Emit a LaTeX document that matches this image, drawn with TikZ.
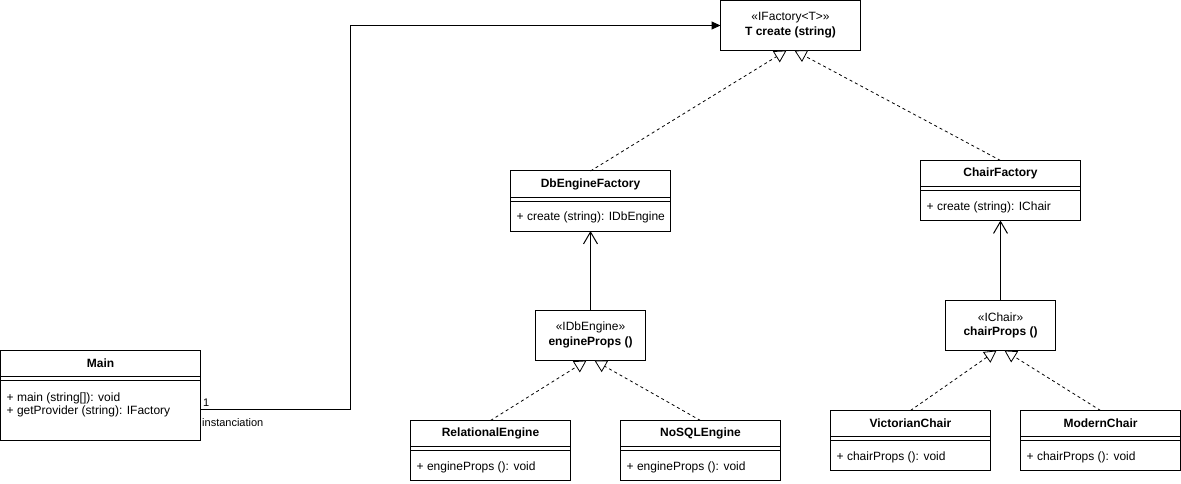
\documentclass[tikz,border=0pt]{standalone}
\usepackage{fontspec}
\setmainfont{Liberation Sans}
\usetikzlibrary{arrows.meta}
\newcommand{\classbox}[6]{% name, x, y, width, height, title
  \node[box, minimum width=#4pt, minimum height=#5pt] (#1) at (#2,#3) {};
  \draw[sep] ([yshift=-26pt]#1.north west) -- ([yshift=-26pt]#1.north east);
  \draw[sep] ([yshift=-30pt]#1.north west) -- ([yshift=-30pt]#1.north east);
  \node[ttl] (#1-t) at ([yshift=-13pt]#1.north) {#6};
}
\begin{document}
\begin{tikzpicture}[x=1pt,y=-1pt,
  box/.style={draw=black, line width=1pt, anchor=north west, inner sep=0pt, outer sep=0pt, fill=white},
  sep/.style={line width=1pt},
  ttl/.style={font=\fontsize{12}{14}\selectfont\bfseries, inner sep=0pt},
  txt/.style={font=\fontsize{12}{14}\selectfont, inner sep=0pt, anchor=west},
  ctr/.style={font=\fontsize{12}{14}\selectfont, inner sep=0pt},
  ctrb/.style={font=\fontsize{12}{14}\selectfont\bfseries, inner sep=0pt},
  lbl/.style={font=\fontsize{11}{13}\selectfont, inner sep=0pt, anchor=west},
  assoc/.style={line width=1pt, -{Triangle[length=9pt,width=8pt]}},
  dep/.style={line width=1pt, -{Straight Barb[length=12pt,width=14pt]}},
  real/.style={line width=0.8pt, dash pattern=on 3pt off 3pt, -{Triangle[open,length=12pt,width=13pt,fill=white]}}
]
\useasboundingbox (0,0) rectangle (1181,484);

% Main
\classbox{main}{0.5}{350.5}{200}{90}{Main}
\node[txt] (main-a1) at ([xshift=6pt,yshift=-47.5pt]main.north west) {+ main (string[]): void};
\node[txt] (main-a2) at ([xshift=6pt,yshift=-60.5pt]main.north west) {+ getProvider (string): IFactory};

% IFactory
\node[box, minimum width=140pt, minimum height=50pt] (ifac) at (720.5,0.5) {};
\node[ctr] (ifac-s) at ([yshift=-17pt]ifac.north) {«IFactory<T>»};
\node[ctrb] (ifac-m) at ([yshift=-32pt]ifac.north) {T create (string)};

% DbEngineFactory
\classbox{dbf}{510.5}{171}{160}{60}{DbEngineFactory}
\node[txt] (dbf-a) at ([xshift=6pt,yshift=-46.5pt]dbf.north west) {+ create (string): IDbEngine};

% ChairFactory
\classbox{chf}{920.5}{160.5}{160}{60}{ChairFactory}
\node[txt] (chf-a) at ([xshift=6pt,yshift=-47pt]chf.north west) {+ create (string): IChair};

% IDbEngine
\node[box, minimum width=110pt, minimum height=50pt] (idb) at (535.5,310.5) {};
\node[ctr] (idb-s) at ([yshift=-17pt]idb.north) {«IDbEngine»};
\node[ctrb] (idb-m) at ([yshift=-32pt]idb.north) {engineProps ()};

% IChair
\node[box, minimum width=110pt, minimum height=50pt] (ich) at (945.5,300.5) {};
\node[ctr] (ich-s) at ([yshift=-17pt]ich.north) {«IChair»};
\node[ctrb] (ich-m) at ([yshift=-32pt]ich.north) {chairProps ()};

% Concrete classes
\classbox{rel}{410.5}{420.5}{160}{60}{RelationalEngine}
\node[txt] (rel-a) at ([xshift=6pt,yshift=-47pt]rel.north west) {+ engineProps (): void};
\classbox{nos}{620.5}{420.5}{160}{60}{NoSQLEngine}
\node[txt] (nos-a) at ([xshift=6pt,yshift=-47pt]nos.north west) {+ engineProps (): void};
\classbox{vic}{830.5}{410.5}{160}{60}{VictorianChair}
\node[txt] (vic-a) at ([xshift=6pt,yshift=-47pt]vic.north west) {+ chairProps (): void};
\classbox{mod}{1020.5}{410.5}{160}{60}{ModernChair}
\node[txt] (mod-a) at ([xshift=6pt,yshift=-47pt]mod.north west) {+ chairProps (): void};

% Association Main -> IFactory
\coordinate (mout) at (200.5,409);
\coordinate (mbend) at (350.5,409);
\draw[assoc] (mout) -- (mbend) |- (ifac.west);
\node[lbl] (l1) at (203,403) {1};
\node[lbl] (l2) at (202,423) {instanciation};

% Realizations
\draw[real] (dbf.north) -- ([xshift=-4pt]ifac.south);
\draw[real] (chf.north) -- ([xshift=4pt]ifac.south);
\draw[real] (rel.north) -- ([xshift=-4pt]idb.south);
\draw[real] (nos.north) -- ([xshift=4pt]idb.south);
\draw[real] (vic.north) -- ([xshift=-4pt]ich.south);
\draw[real] (mod.north) -- ([xshift=4pt]ich.south);

% Dependencies
\draw[dep] (idb.north) -- (dbf.south);
\draw[dep] (ich.north) -- (chf.south);
\end{tikzpicture}
\end{document}
